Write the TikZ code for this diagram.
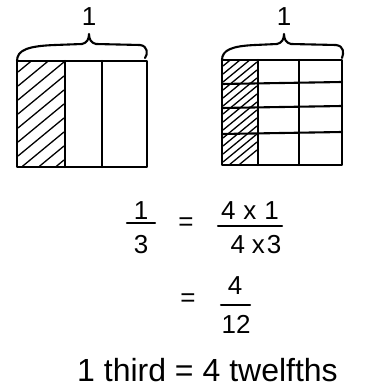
\documentclass[tikz,border=0pt]{standalone}
\usepackage{fontspec}
\setmainfont{Liberation Sans}
\begin{document}
\begin{tikzpicture}[x=1pt,y=-1pt,
  ink/.style={line width=2.1pt,line cap=round,line join=round},
  hatch/.style={line width=1.3pt,line cap=round},
  txt/.style={inner sep=0pt,font=\fontsize{26}{26}\selectfont},
  big/.style={inner sep=0pt,font=\fontsize{32}{32}\selectfont}]
\useasboundingbox (0,0) rectangle (364,390);
% ---------- left whole: thirds ----------
\begin{scope}
  \clip (18,62) rectangle (64,166);
  \foreach \k in {0,...,11}{
    \draw[hatch] (18,{72+\k*14}) -- (64,{72+\k*14-38});
  }
\end{scope}
\draw[ink] (17,61) rectangle (147,167);
\draw[ink] (65,61) -- (65,167);
\draw[ink] (102,61) -- (102,167);
\draw[ink] (17,61) .. controls (17,50) and (28,46) .. (55,45) -- (82,44)
  .. controls (87,43) and (89,39) .. (89,34)
  .. controls (89,39) and (91,43) .. (96,44) -- (140,45)
  .. controls (148,46) and (148,54) .. (145,58);
\node[txt] (one1) at (89,17) {1};
% ---------- right whole: twelfths ----------
\begin{scope}
  \clip (223,61) rectangle (257,164);
  \foreach \k in {0,...,14}{
    \draw[hatch] (223,{66+\k*8}) -- (257,{66+\k*8-28});
  }
\end{scope}
\draw[ink] (222,60) rectangle (342,165);
\draw[ink] (258,60) -- (258,165);
\draw[ink] (299,60) -- (299,165);
\draw[ink] (222,84) -- (342,82);
\draw[ink] (222,108) -- (342,106);
\draw[ink] (222,134) -- (342,132);
\draw[ink] (222,60) .. controls (222,50) and (232,46) .. (255,45) -- (277,44)
  .. controls (282,43) and (284,39) .. (284,34)
  .. controls (284,39) and (286,43) .. (291,44) -- (336,45)
  .. controls (344,46) and (344,53) .. (342,58);
\node[txt] (one2) at (284,17) {1};
% ---------- equation ----------
\node[txt] (n1) at (141,211) {1};
\node[txt] (d1) at (141,245) {3};
\draw[ink] (127,223) -- (155,223);
\node[txt] (eq1) at (186,224) {=};
\node[txt] (n2) at (250,211) {4\hspace{8pt}x\hspace{8pt}1};
\node[txt] (d2) at (256,245) {4\hspace{7pt}x\hspace{2pt}3};
\draw[ink] (218,226) -- (282,226);
\node[txt] (eq2) at (188,300) {=};
\node[txt] (n3) at (235,286) {4};
\node[txt] (d3) at (236,324) {12};
\draw[ink] (221,305) -- (250,305);
\node[big,anchor=base west] (last) at (77,381) {1 third = 4 twelfths};
\end{tikzpicture}
\end{document}
